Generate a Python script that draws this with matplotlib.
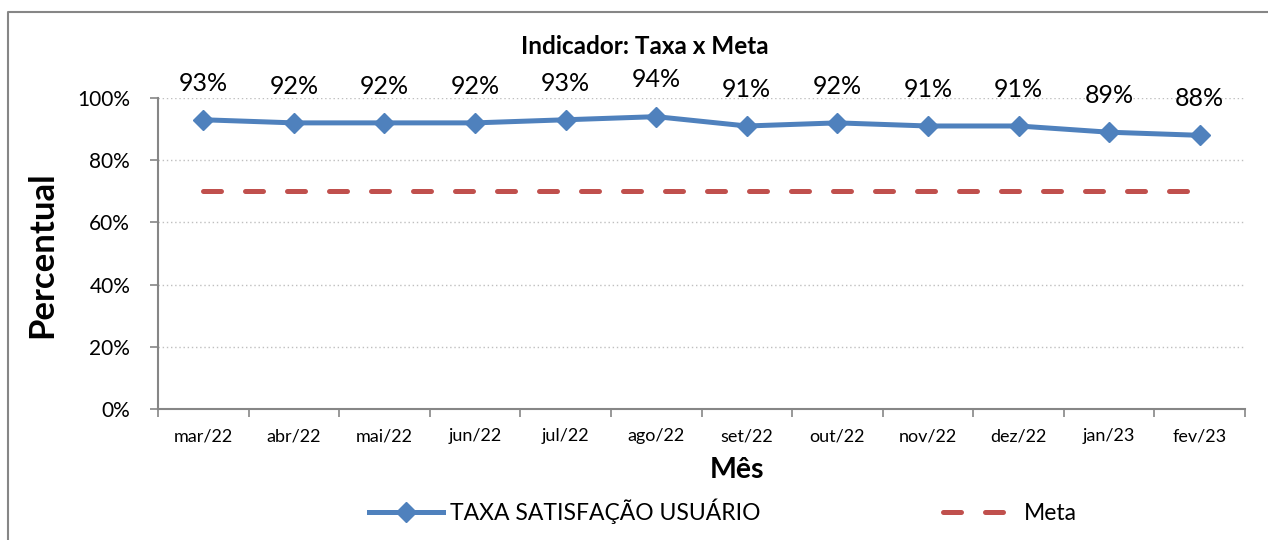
import numpy as np
import matplotlib
matplotlib.use("Agg")
from matplotlib import pyplot as plt
from matplotlib.lines import Line2D
from matplotlib.ticker import FuncFormatter

# Data
#------------------------------------------------------------------------------
months = ["mar/22", "abr/22", "mai/22", "jun/22", "jul/22", "ago/22",
          "set/22", "out/22", "nov/22", "dez/22", "jan/23", "fev/23"]
taxa = [0.93, 0.92, 0.92, 0.92, 0.93, 0.94, 0.91, 0.92, 0.91, 0.91, 0.89, 0.88]
meta = [0.70] * len(months)
yticks = [0.0, 0.2, 0.4, 0.6, 0.8, 1.0]
#------------------------------------------------------------------------------

blue = "#4F81BD"
red = "#C0504D"
plt.rcParams['font.family'] = ['Lato', 'DejaVu Sans']

W, H = 1268, 540
fig = plt.figure(figsize=(W / 100, H / 100), dpi=100)
ax = fig.add_axes([158 / W, 1 - 409 / H, (1245 - 158) / W, (409 - 98) / H])

x = np.arange(len(months))
ax.plot(x, taxa, color=blue, lw=3.6, marker='D', markersize=10,
        solid_capstyle='round', zorder=3)
ax.plot(x, meta, color=red, lw=3.6, dashes=(3.6, 4.8),
        dash_capstyle='round', zorder=2)

for xi, v in zip(x, taxa):
    ax.annotate('{:.0f}%'.format(v * 100), (xi, v), xytext=(0, 21),
                textcoords='offset points', ha='center', va='baseline',
                fontsize=18)

ax.set_xlim(-0.5, len(months) - 0.5)
ax.set_ylim(0, 1)
ax.set_yticks(yticks)
ax.yaxis.set_major_formatter(FuncFormatter(lambda v, p: '{:.0f}%'.format(v * 100)))
ax.tick_params(axis='y', length=6, width=1.2, color='#868686', pad=14,
               labelsize=15)
ax.grid(axis='y', color='#BFBFBF', linestyle=(0, (1, 2)), lw=1)

ax.set_xticks(np.arange(len(months) + 1) - 0.5)
ax.set_xticklabels([])
ax.set_xticks(x, minor=True)
ax.set_xticklabels(months, minor=True)
ax.tick_params(axis='x', which='major', length=6, width=1.2, color='#868686')
ax.tick_params(axis='x', which='minor', length=0, pad=14, labelsize=13)

for side in ['top', 'right']:
    ax.spines[side].set_visible(False)
for side in ['left', 'bottom']:
    ax.spines[side].set_color('#868686')
    ax.spines[side].set_linewidth(1.5)

fig.text(645 / W, 1 - 47 / H, 'Indicador: Taxa x Meta', ha='center',
         va='center', fontsize=17.5, fontweight='bold')
fig.text(42 / W, 1 - 255 / H, 'Percentual', rotation=90, ha='center',
         va='center', fontsize=25, fontweight='bold')
fig.text(737 / W, 1 - 470 / H, 'Mês', ha='center', va='center',
         fontsize=20.5, fontweight='bold')

handles = [Line2D([], [], color=blue, lw=3.6, marker='D', markersize=10),
           Line2D([], [], color=red, lw=3.6, dashes=(3.6, 4.8),
                  dash_capstyle='round')]
fig.legend(handles, ['TAXA SATISFAÇÃO USUÁRIO', 'Meta'], ncol=2,
           loc='center', bbox_to_anchor=(723 / W, 1 - 511 / H), frameon=False,
           fontsize=16.5, handlelength=3.2, handletextpad=0.3, columnspacing=8)

# outer chart frame (top and left edges only visible)
fig.add_artist(Line2D([8 / W, 8 / W, 1], [0, 1 - 12 / H, 1 - 12 / H],
                      transform=fig.transFigure, color='#868686', lw=1.5))

fig.savefig('out.png', dpi=100)
